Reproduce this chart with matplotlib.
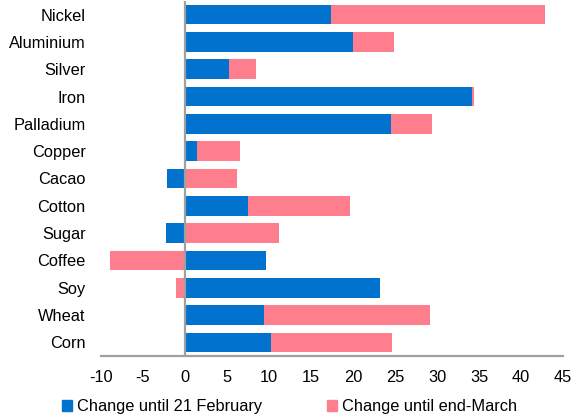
import matplotlib
matplotlib.use("Agg")
import matplotlib.pyplot as plt
import numpy as np
from matplotlib.patches import Patch

categories = ["Nickel", "Aluminium", "Silver", "Iron", "Palladium", "Copper", "Cacao",
              "Cotton", "Sugar", "Coffee", "Soy", "Wheat", "Corn"]
change_feb = [17.4, 20.0, 5.2, 34.2, 24.5, 1.4, -2.1, 7.5, -2.3, 9.7, 23.2, 9.4, 10.2]
change_march = [25.5, 4.9, 3.3, 0.2, 4.9, 5.2, 6.2, 12.2, 11.2, -8.9, -1.1, 19.8, 14.5]
xticks = [-10, -5, 0, 5, 10, 15, 20, 25, 30, 35, 40, 45]

blue = "#0173CF"
pink = "#FF7E8E"
grey = "#A0A0A0"

plt.rcParams['font.family'] = ['Liberation Sans', 'DejaVu Sans']

fig = plt.figure(figsize=(5.77, 4.17), dpi=100)
ax = fig.add_axes([101/577, 1-356/417, (563-101)/577, 355/417])

y = np.arange(len(categories))
feb = np.array(change_feb)
mar = np.array(change_march)
left_mar = np.where(mar >= 0, np.maximum(feb, 0), np.minimum(feb, 0))

ax.barh(y, feb, height=0.72, color=blue, linewidth=0)
ax.barh(y, mar, left=left_mar, height=0.72, color=pink, linewidth=0)

ax.axvline(0, color=grey, linewidth=1.6, zorder=3)
ax.set_xlim(-10, 45)
ax.set_ylim(len(categories) - 0.5, -0.5)
ax.set_yticks(y)
ax.set_yticklabels(categories, fontsize=11.8)
ax.set_xticks(xticks)
ax.set_xticklabels([str(t) for t in xticks], fontsize=11.8)
ax.tick_params(axis='y', length=0, pad=11)
ax.tick_params(axis='x', length=0, pad=10)
for s in ['top', 'right', 'left']:
    ax.spines[s].set_visible(False)
ax.spines['bottom'].set_color(grey)
ax.spines['bottom'].set_linewidth(1.6)

handles = [Patch(color=blue, label="Change until 21 February"),
           Patch(color=pink, label="Change until end-March")]
fig.legend(handles=handles, loc='center', bbox_to_anchor=(0.502, 0.025), ncol=2,
           frameon=False, fontsize=11.8, handlelength=0.6, handleheight=0.6,
           handletextpad=0.3, columnspacing=4.0, borderpad=0)

fig.savefig("out.png", dpi=100)
